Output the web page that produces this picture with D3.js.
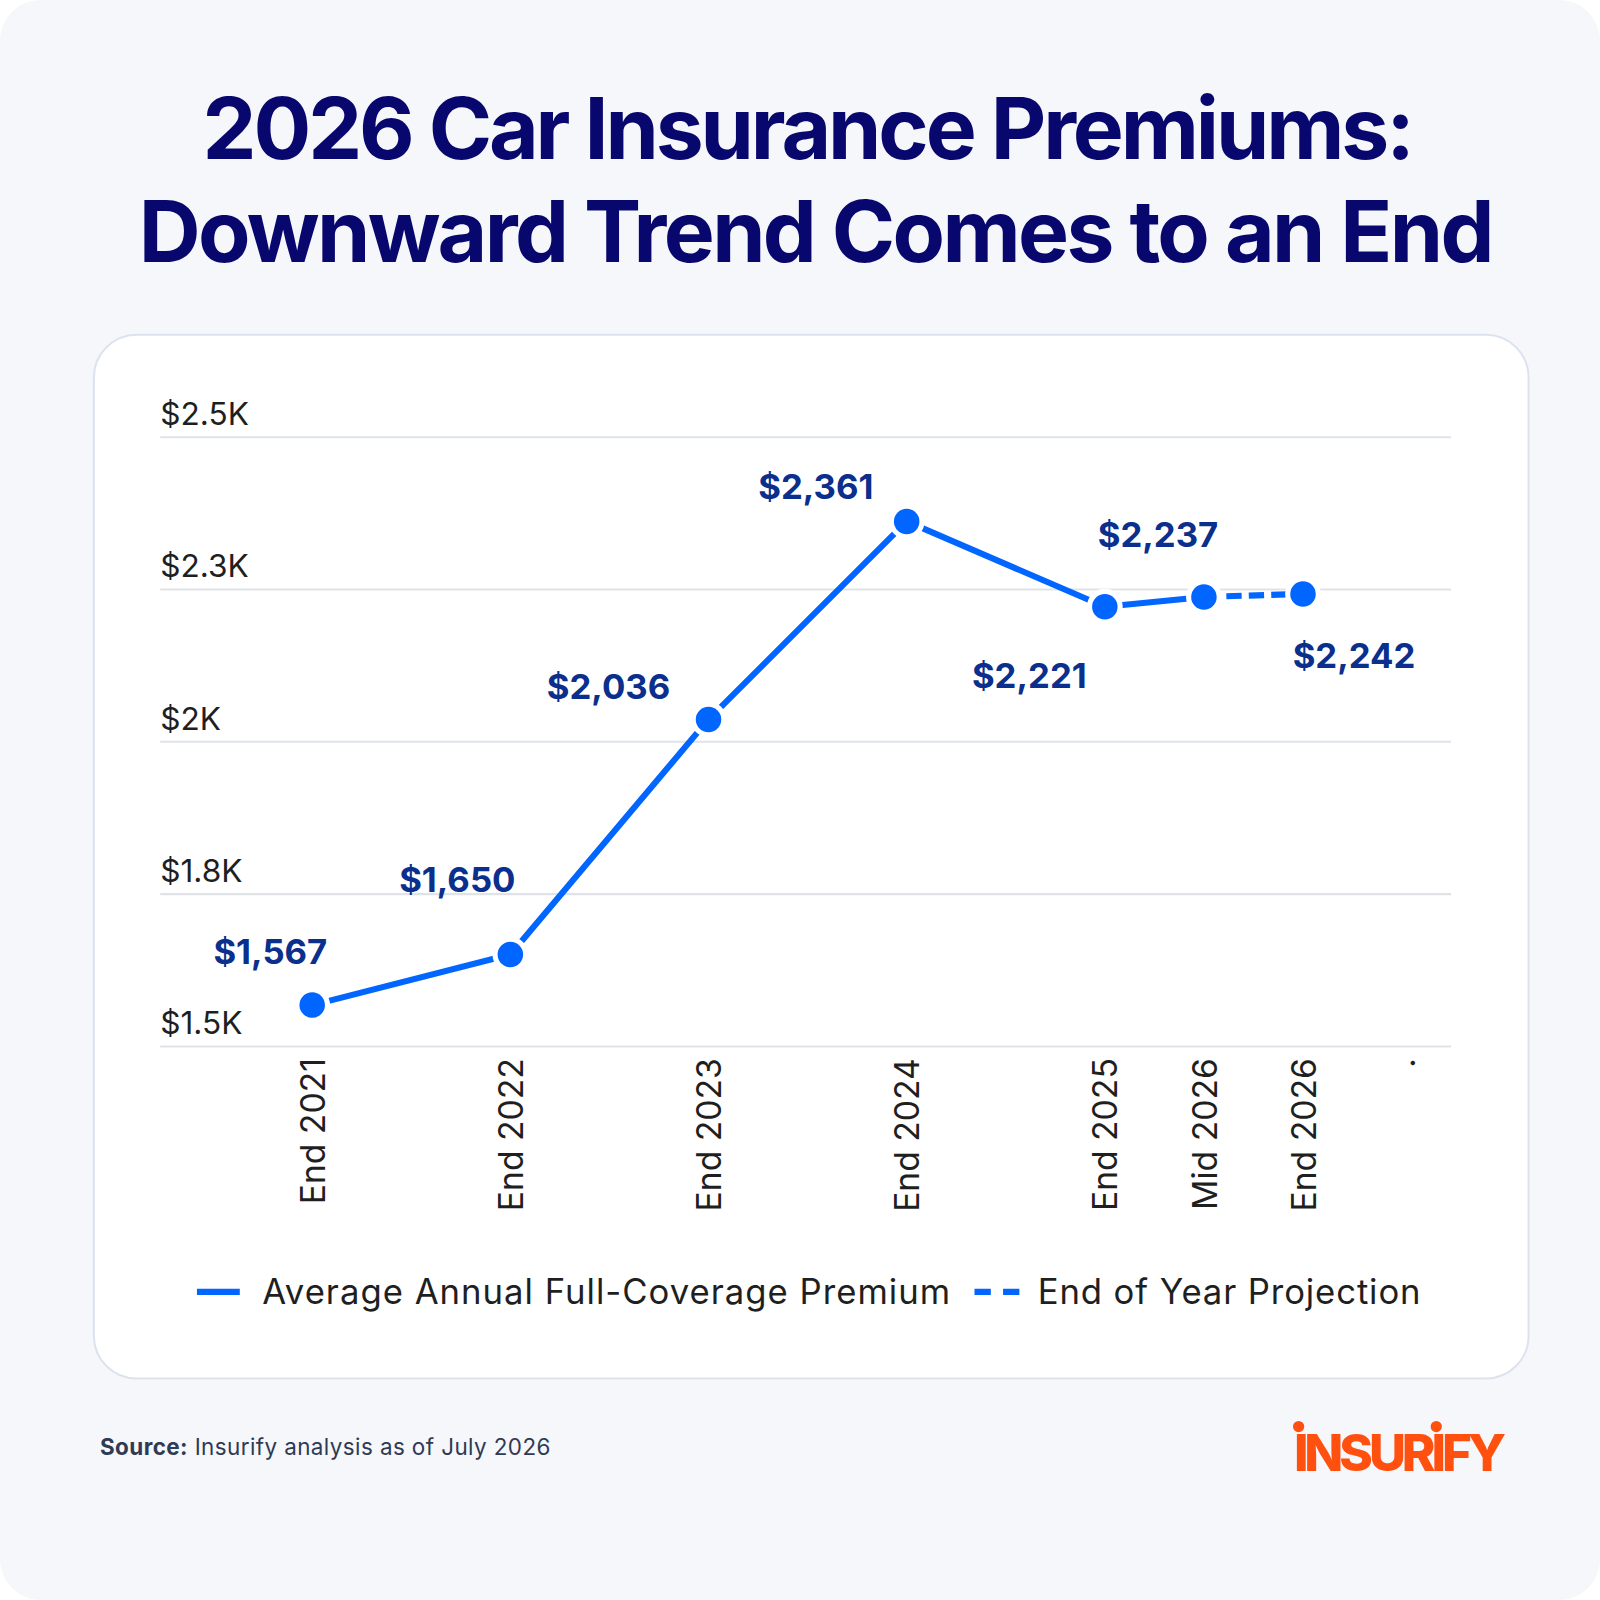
<!DOCTYPE html>
<html>
<head>
<meta charset="utf-8">
<script src="https://cdn.jsdelivr.net/npm/d3@7"></script>
<style>
  html, body { margin: 0; padding: 0; background: #ffffff; }
  svg { display: block; }
  text { font-family: Inter, "DejaVu Sans", sans-serif; }
</style>
</head>
<body>
<svg id="chart" width="1600" height="1600"></svg>
<script>
// ---------- DATA ----------
const periods = ["End 2021", "End 2022", "End 2023", "End 2024", "End 2025", "Mid 2026", "End 2026"];
const periodTimes = [2021, 2022, 2023, 2024, 2025, 2025.5, 2026];
const premiums = [1567, 1650, 2036, 2361, 2221, 2237, 2242];
const valueLabels = ["$1,567", "$1,650", "$2,036", "$2,361", "$2,221", "$2,237", "$2,242"];
const projectionStartIndex = 5; // dashed from Mid 2026 to End 2026
const extraTickTime = [2026.5];
const extraTickLabel = ["."];
const yTicks = [1500, 1750, 2000, 2250, 2500];
const yTickLabels = ["$1.5K", "$1.8K", "$2K", "$2.3K", "$2.5K"];
const legendLabels = ["Average Annual Full-Coverage Premium", "End of Year Projection"];
const titleLines = ["2026 Car Insurance Premiums:", "Downward Trend Comes to an End"];
const sourceBold = "Source:";
const sourceText = " Insurify analysis as of July 2026";
const brand = "INSURIFY";

// ---------- LAYOUT ----------
const labelOffsets = [[-41, -40], [-52, -61], [-98, -20], [-89, -22], [-74, 80], [-45, -49], [50, 73]];
const plot = { left: 157, right: 1422, top: 428, bottom: 1025 };
const blue = "#0066ff";
const labelBlue = "#0a2f8c";
const navy = "#07076d";
const k = 1600 / 1568;

const svgRoot = d3.select("#chart");
const svg = svgRoot.append("g").attr("transform", `scale(${k})`);

// background
svg.append("rect").attr("x", 0).attr("y", 0).attr("width", 1568).attr("height", 1568)
  .attr("rx", 40).attr("fill", "#f5f7fb");

// helper: fit text width by letter-spacing
function fitWidth(sel, target) {
  const node = sel.node();
  const n = node.getNumberOfChars();
  const len = node.getComputedTextLength();
  const ls = (target - len) / n;
  sel.attr("letter-spacing", ls.toFixed(2));
}

// title
const titleX = [791, 799];
const titleY = [156, 257];
const titleW = [1185, 1326];
titleLines.forEach((t, i) => {
  const tt = svg.append("text")
    .attr("x", titleX[i]).attr("y", titleY[i])
    .attr("text-anchor", "middle")
    .attr("font-size", 84).attr("font-weight", 700)
    .attr("fill", navy).text(t);
  fitWidth(tt, titleW[i]);
});

// card
svg.append("rect").attr("x", 92).attr("y", 328).attr("width", 1406).attr("height", 1023)
  .attr("rx", 42).attr("fill", "#ffffff").attr("stroke", "#dde3ee").attr("stroke-width", 2);

// scales
const x = d3.scaleLinear().domain([2020.233, 2026.747]).range([plot.left, plot.right]);
const y = d3.scaleLinear().domain([1500, 2500]).range([plot.bottom, plot.top]);

// y axis with gridlines
const yAxis = svg.append("g")
  .attr("transform", `translate(${plot.left},0)`)
  .call(d3.axisLeft(y).tickValues(yTicks).tickFormat((d, i) => yTickLabels[i])
    .tickSize(-(plot.right - plot.left)));
yAxis.select(".domain").remove();
yAxis.selectAll(".tick line").attr("stroke", "#dfe3e8").attr("stroke-width", 2);
yAxis.selectAll(".tick text")
  .attr("x", 0).attr("dy", null).attr("y", -12)
  .attr("text-anchor", "start")
  .attr("font-size", 31).attr("fill", "#1f1f1f")
  .attr("font-family", "Inter, sans-serif");

// x axis
const allTickTimes = periodTimes.concat(extraTickTime);
const allTickLabels = periods.concat(extraTickLabel);
const xAxis = svg.append("g")
  .attr("transform", `translate(0,${plot.bottom})`)
  .call(d3.axisBottom(x).tickValues(allTickTimes).tickFormat((d, i) => allTickLabels[i]).tickSize(0));
xAxis.select(".domain").remove();
xAxis.selectAll(".tick text")
  .attr("transform", "rotate(-90)")
  .attr("text-anchor", "end")
  .attr("x", -12).attr("y", 0).attr("dy", "0.36em")
  .attr("font-size", 33).attr("fill", "#1f1f1f")
  .attr("font-family", "Inter, sans-serif");

// lines
const pts = premiums.map((v, i) => ({ t: periodTimes[i], v, i }));
const line = d3.line().x(d => x(d.t)).y(d => y(d.v));
svg.append("path")
  .datum(pts.slice(0, projectionStartIndex + 1))
  .attr("d", line).attr("fill", "none").attr("stroke", blue)
  .attr("stroke-width", 6).attr("stroke-linejoin", "round");
svg.append("path")
  .datum(pts.slice(projectionStartIndex))
  .attr("d", line).attr("fill", "none").attr("stroke", blue)
  .attr("stroke-width", 6).attr("stroke-dasharray", "15 7");

// points
svg.append("g").selectAll("circle").data(pts).join("circle")
  .attr("cx", d => x(d.t)).attr("cy", d => y(d.v)).attr("r", 15)
  .attr("fill", blue).attr("stroke", "#ffffff").attr("stroke-width", 5);

// value labels
svg.append("g").selectAll("text").data(pts).join("text")
  .attr("x", d => x(d.t) + labelOffsets[d.i][0])
  .attr("y", d => y(d.v) + labelOffsets[d.i][1])
  .attr("text-anchor", "middle")
  .attr("font-size", 34).attr("font-weight", 700)
  .attr("fill", labelBlue)
  .text(d => valueLabels[d.i]);

// legend
const lg = svg.append("g");
lg.append("line").attr("x1", 193).attr("x2", 235).attr("y1", 1266).attr("y2", 1266)
  .attr("stroke", blue).attr("stroke-width", 6);
const l1 = lg.append("text").attr("x", 257).attr("y", 1278).attr("font-size", 34)
  .attr("fill", "#1f1f1f").text(legendLabels[0]);
fitWidth(l1, 675);
lg.append("line").attr("x1", 955).attr("x2", 999).attr("y1", 1266).attr("y2", 1266)
  .attr("stroke", blue).attr("stroke-width", 6).attr("stroke-dasharray", "16 12");
const l2 = lg.append("text").attr("x", 1017).attr("y", 1278).attr("font-size", 34)
  .attr("fill", "#1f1f1f").text(legendLabels[1]);
fitWidth(l2, 376);

// source
const src = svg.append("text").attr("x", 98).attr("y", 1426).attr("font-size", 22).attr("fill", "#2f3a55");
src.append("tspan").attr("font-weight", 700).text(sourceBold);
src.append("tspan").text(sourceText);
fitWidth(src, 442);

// brand
const br = svg.append("text").attr("x", 1268).attr("y", 1442)
  .attr("font-size", 50).attr("font-weight", 800).attr("fill", "#ff5010").text(brand);
fitWidth(br, 204);
[0, 5].forEach(ci => {
  const ext = br.node().getExtentOfChar(ci);
  svg.append("circle").attr("cx", ext.x + ext.width / 2 - 0.5).attr("cy", 1398).attr("r", 5.5).attr("fill", "#ff5010");
});
</script>
</body>
</html>
